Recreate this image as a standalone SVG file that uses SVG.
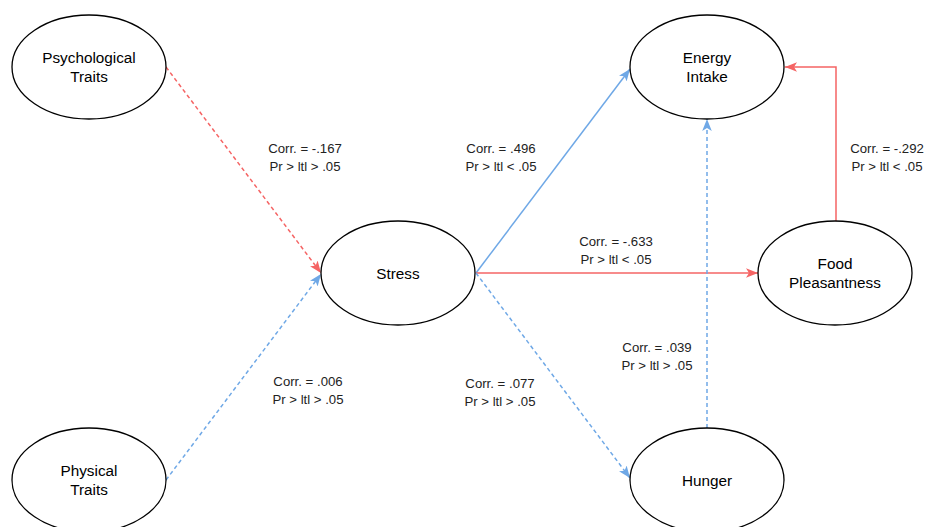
<svg xmlns="http://www.w3.org/2000/svg" width="925" height="527" viewBox="0 0 925 527">
<style>
.node ellipse{fill:#fff;stroke:#000;stroke-width:1.3}
.node text{font-family:"Liberation Sans",Arial,sans-serif;font-size:15.3px;fill:#000;text-anchor:middle}
.lbl{font-family:"Liberation Sans",Arial,sans-serif;font-size:13.2px;fill:#222;text-anchor:middle}
.red{stroke:#F56464;stroke-width:1.5;fill:none}
.blue{stroke:#6FA8E6;stroke-width:1.5;fill:none}
.dash{stroke-dasharray:4 3}
</style>
<defs>
<marker id="ar" viewBox="0 0 10 8" refX="10" refY="4" markerWidth="12" markerHeight="10" markerUnits="userSpaceOnUse" orient="auto">
<path d="M0,0 L10,4 L0,8 L2.5,4 Z" fill="#F56464"/>
</marker>
<marker id="ab" viewBox="0 0 10 8" refX="10" refY="4" markerWidth="12" markerHeight="10" markerUnits="userSpaceOnUse" orient="auto">
<path d="M0,0 L10,4 L0,8 L2.5,4 Z" fill="#6FA8E6"/>
</marker>
</defs>
<rect width="925" height="527" fill="#fff"/>
<g id="connectors">
<line class="red dash" x1="166" y1="67" x2="321" y2="273" marker-end="url(#ar)"/>
<line class="blue dash" x1="166" y1="480" x2="321" y2="274" marker-end="url(#ab)"/>
<line class="blue" x1="476" y1="273" x2="630" y2="69" marker-end="url(#ab)"/>
<line class="red" x1="476" y1="273" x2="758" y2="273" marker-end="url(#ar)"/>
<line class="blue dash" x1="476" y1="273" x2="630" y2="478" marker-end="url(#ab)"/>
<line class="blue dash" x1="707" y1="428" x2="707" y2="119" marker-end="url(#ab)"/>
<polyline class="red" points="836,222 836,67 785,67" marker-end="url(#ar)"/>
<text class="lbl" x="305" y="153">Corr. = -.167</text>
<text class="lbl" x="305" y="171">Pr &gt; ltl &gt; .05</text>
<text class="lbl" x="501" y="153">Corr. = .496</text>
<text class="lbl" x="501" y="171">Pr &gt; ltl &lt; .05</text>
<text class="lbl" x="616" y="246">Corr. = -.633</text>
<text class="lbl" x="616" y="264">Pr &gt; ltl &lt; .05</text>
<text class="lbl" x="887" y="153">Corr. = -.292</text>
<text class="lbl" x="887" y="171">Pr &gt; ltl &lt; .05</text>
<text class="lbl" x="657" y="352">Corr. = .039</text>
<text class="lbl" x="657" y="370">Pr &gt; ltl &gt; .05</text>
<text class="lbl" x="308" y="386">Corr. = .006</text>
<text class="lbl" x="308" y="404">Pr &gt; ltl &gt; .05</text>
<text class="lbl" x="500" y="388">Corr. = .077</text>
<text class="lbl" x="500" y="406">Pr &gt; ltl &gt; .05</text>
</g>
<g id="psych" class="node">
<ellipse cx="89" cy="67" rx="77" ry="52"/>
<text x="89" y="63">Psychological</text>
<text x="89" y="82">Traits</text>
</g>
<g id="physical" class="node">
<ellipse cx="89" cy="480" rx="77" ry="52"/>
<text x="89" y="476">Physical</text>
<text x="89" y="495">Traits</text>
</g>
<g id="stress" class="node">
<ellipse cx="398" cy="273" rx="77" ry="52"/>
<text x="398" y="279">Stress</text>
</g>
<g id="energy" class="node">
<ellipse cx="707" cy="67" rx="77" ry="52"/>
<text x="707" y="63">Energy</text>
<text x="707" y="82">Intake</text>
</g>
<g id="food" class="node">
<ellipse cx="835" cy="273" rx="77" ry="52"/>
<text x="835" y="269">Food</text>
<text x="835" y="288">Pleasantness</text>
</g>
<g id="hunger" class="node">
<ellipse cx="707" cy="480" rx="77" ry="52"/>
<text x="707" y="486">Hunger</text>
</g>
</svg>
